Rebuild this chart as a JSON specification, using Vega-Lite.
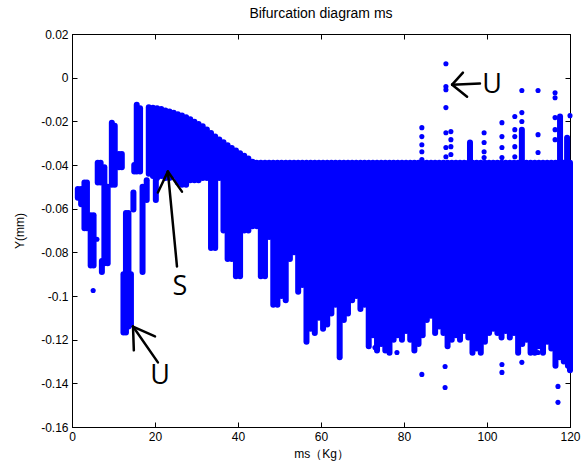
{
  "$schema": "https://vega.github.io/schema/vega-lite/v6.json",
  "width": 498,
  "height": 393,
  "autosize": "none",
  "padding": {"left": 72, "top": 34, "right": 14, "bottom": 43},
  "background": "white",
  "config": {
    "view": {"stroke": "black", "strokeWidth": 1},
    "font": "Liberation Sans",
    "axis": {"grid": false, "domainColor": "black", "tickColor": "black", "labelColor": "black", "titleColor": "black", "labelFontSize": 12, "titleFontSize": 12, "titleFontWeight": "normal", "labelFont": "Liberation Sans", "titleFont": "Liberation Sans"}
  },
  "title": {"text": "Bifurcation diagram ms", "fontSize": 14, "fontWeight": "normal", "font": "Liberation Sans", "offset": 7, "color": "black"},
  "datasets": {
    "segs": [
      {"x": 1.4, "y1": -0.051, "y2": -0.055},
      {"x": 2.2, "y1": -0.051, "y2": -0.058},
      {"x": 3.0, "y1": -0.048, "y2": -0.069},
      {"x": 3.6, "y1": -0.048, "y2": -0.069},
      {"x": 4.5, "y1": -0.063, "y2": -0.086},
      {"x": 5.2, "y1": -0.063, "y2": -0.086},
      {"x": 6.2, "y1": -0.039, "y2": -0.048},
      {"x": 6.9, "y1": -0.039, "y2": -0.048},
      {"x": 7.2, "y1": -0.084, "y2": -0.089},
      {"x": 7.8, "y1": -0.041, "y2": -0.085},
      {"x": 8.6, "y1": -0.050, "y2": -0.085},
      {"x": 9.6, "y1": -0.0206, "y2": -0.049},
      {"x": 10.3, "y1": -0.022, "y2": -0.049},
      {"x": 11.3, "y1": -0.035, "y2": -0.041},
      {"x": 12.0, "y1": -0.035, "y2": -0.041},
      {"x": 12.4, "y1": -0.090, "y2": -0.1167},
      {"x": 13.0, "y1": -0.062, "y2": -0.1167},
      {"x": 13.6, "y1": -0.062, "y2": -0.114},
      {"x": 14.2, "y1": -0.090, "y2": -0.113},
      {"x": 14.8, "y1": -0.0526, "y2": -0.0604},
      {"x": 15.0, "y1": -0.040, "y2": -0.043},
      {"x": 15.6, "y1": -0.0124, "y2": -0.043},
      {"x": 16.4, "y1": -0.014, "y2": -0.043},
      {"x": 17.0, "y1": -0.050, "y2": -0.089},
      {"x": 18.0, "y1": -0.047, "y2": -0.056},
      {"x": 18.5, "y1": -0.0135, "y2": -0.044},
      {"x": 19.5, "y1": -0.0138, "y2": -0.045},
      {"x": 20.2, "y1": -0.046, "y2": -0.056},
      {"x": 20.5, "y1": -0.0140, "y2": -0.046},
      {"x": 21.5, "y1": -0.0143, "y2": -0.045},
      {"x": 22.5, "y1": -0.0150, "y2": -0.046},
      {"x": 23.5, "y1": -0.0155, "y2": -0.046},
      {"x": 24.5, "y1": -0.0161, "y2": -0.045},
      {"x": 25.5, "y1": -0.0167, "y2": -0.048},
      {"x": 26.5, "y1": -0.0173, "y2": -0.049},
      {"x": 27.5, "y1": -0.0181, "y2": -0.049},
      {"x": 28.5, "y1": -0.0191, "y2": -0.047},
      {"x": 29.5, "y1": -0.0202, "y2": -0.047},
      {"x": 30.5, "y1": -0.0212, "y2": -0.047},
      {"x": 31.5, "y1": -0.0223, "y2": -0.046},
      {"x": 32.5, "y1": -0.0237, "y2": -0.046},
      {"x": 33.5, "y1": -0.0253, "y2": -0.078},
      {"x": 34.5, "y1": -0.0270, "y2": -0.078},
      {"x": 35.5, "y1": -0.0283, "y2": -0.046},
      {"x": 36.5, "y1": -0.0296, "y2": -0.070},
      {"x": 37.5, "y1": -0.0310, "y2": -0.083},
      {"x": 38.5, "y1": -0.0322, "y2": -0.083},
      {"x": 39.5, "y1": -0.0334, "y2": -0.091},
      {"x": 40.5, "y1": -0.0346, "y2": -0.091},
      {"x": 41.5, "y1": -0.0358, "y2": -0.070},
      {"x": 42.5, "y1": -0.0370, "y2": -0.070},
      {"x": 43.5, "y1": -0.0385, "y2": -0.068},
      {"x": 44.5, "y1": -0.039, "y2": -0.068},
      {"x": 45.5, "y1": -0.039, "y2": -0.091},
      {"x": 46.5, "y1": -0.039, "y2": -0.091},
      {"x": 47.5, "y1": -0.039, "y2": -0.073},
      {"x": 48.5, "y1": -0.039, "y2": -0.104},
      {"x": 49.5, "y1": -0.039, "y2": -0.104},
      {"x": 50.5, "y1": -0.039, "y2": -0.100},
      {"x": 51.5, "y1": -0.039, "y2": -0.102},
      {"x": 52.5, "y1": -0.039, "y2": -0.083},
      {"x": 53.5, "y1": -0.039, "y2": -0.080},
      {"x": 54.5, "y1": -0.039, "y2": -0.098},
      {"x": 55.5, "y1": -0.039, "y2": -0.095},
      {"x": 56.5, "y1": -0.039, "y2": -0.121},
      {"x": 57.5, "y1": -0.039, "y2": -0.115},
      {"x": 58.5, "y1": -0.039, "y2": -0.117},
      {"x": 59.5, "y1": -0.039, "y2": -0.110},
      {"x": 60.5, "y1": -0.039, "y2": -0.115},
      {"x": 61.5, "y1": -0.039, "y2": -0.113},
      {"x": 62.5, "y1": -0.039, "y2": -0.108},
      {"x": 63.5, "y1": -0.039, "y2": -0.104},
      {"x": 64.5, "y1": -0.039, "y2": -0.128},
      {"x": 65.5, "y1": -0.039, "y2": -0.111},
      {"x": 66.5, "y1": -0.039, "y2": -0.108},
      {"x": 67.5, "y1": -0.039, "y2": -0.102},
      {"x": 68.5, "y1": -0.039, "y2": -0.100},
      {"x": 69.5, "y1": -0.039, "y2": -0.106},
      {"x": 70.5, "y1": -0.039, "y2": -0.104},
      {"x": 71.5, "y1": -0.039, "y2": -0.123},
      {"x": 72.5, "y1": -0.039, "y2": -0.118},
      {"x": 73.5, "y1": -0.039, "y2": -0.125},
      {"x": 74.5, "y1": -0.039, "y2": -0.122},
      {"x": 75.5, "y1": -0.039, "y2": -0.125},
      {"x": 76.5, "y1": -0.039, "y2": -0.126},
      {"x": 77.5, "y1": -0.039, "y2": -0.120},
      {"x": 78.5, "y1": -0.039, "y2": -0.118},
      {"x": 79.5, "y1": -0.039, "y2": -0.120},
      {"x": 80.5, "y1": -0.039, "y2": -0.116},
      {"x": 81.5, "y1": -0.039, "y2": -0.120},
      {"x": 82.5, "y1": -0.039, "y2": -0.125},
      {"x": 83.5, "y1": -0.039, "y2": -0.122},
      {"x": 84.5, "y1": -0.039, "y2": -0.118},
      {"x": 85.5, "y1": -0.039, "y2": -0.111},
      {"x": 86.5, "y1": -0.039, "y2": -0.109},
      {"x": 87.5, "y1": -0.039, "y2": -0.117},
      {"x": 88.5, "y1": -0.039, "y2": -0.114},
      {"x": 89.5, "y1": -0.039, "y2": -0.117},
      {"x": 90.5, "y1": -0.039, "y2": -0.123},
      {"x": 91.5, "y1": -0.039, "y2": -0.120},
      {"x": 92.5, "y1": -0.039, "y2": -0.118},
      {"x": 93.5, "y1": -0.039, "y2": -0.120},
      {"x": 94.5, "y1": -0.039, "y2": -0.116},
      {"x": 95.5, "y1": -0.039, "y2": -0.119},
      {"x": 96.5, "y1": -0.039, "y2": -0.126},
      {"x": 97.5, "y1": -0.039, "y2": -0.124},
      {"x": 98.5, "y1": -0.039, "y2": -0.126},
      {"x": 99.5, "y1": -0.039, "y2": -0.121},
      {"x": 100.5, "y1": -0.039, "y2": -0.117},
      {"x": 101.5, "y1": -0.039, "y2": -0.115},
      {"x": 102.5, "y1": -0.039, "y2": -0.117},
      {"x": 103.5, "y1": -0.039, "y2": -0.119},
      {"x": 104.5, "y1": -0.039, "y2": -0.116},
      {"x": 105.5, "y1": -0.039, "y2": -0.119},
      {"x": 106.5, "y1": -0.039, "y2": -0.117},
      {"x": 107.5, "y1": -0.039, "y2": -0.126},
      {"x": 108.5, "y1": -0.039, "y2": -0.122},
      {"x": 109.5, "y1": -0.039, "y2": -0.120},
      {"x": 110.5, "y1": -0.039, "y2": -0.126},
      {"x": 111.5, "y1": -0.039, "y2": -0.126},
      {"x": 112.5, "y1": -0.039, "y2": -0.123},
      {"x": 113.5, "y1": -0.039, "y2": -0.126},
      {"x": 114.5, "y1": -0.039, "y2": -0.121},
      {"x": 115.5, "y1": -0.039, "y2": -0.124},
      {"x": 116.5, "y1": -0.039, "y2": -0.132},
      {"x": 117.5, "y1": -0.039, "y2": -0.128},
      {"x": 118.5, "y1": -0.039, "y2": -0.130},
      {"x": 119.5, "y1": -0.039, "y2": -0.132},
      {"x": 120.0, "y1": -0.039, "y2": -0.134},
      {"x": 95.9, "y1": -0.0297, "y2": -0.039},
      {"x": 119.3, "y1": -0.0275, "y2": -0.039},
      {"x": 117.6, "y1": -0.0178, "y2": -0.039},
      {"x": 108.4, "y1": -0.0238, "y2": -0.039}
    ],
    "pts": [
      {"x": 84.3, "y": -0.0229}, {"x": 84.3, "y": -0.027}, {"x": 84.3, "y": -0.0307}, {"x": 84.3, "y": -0.0339}, {"x": 84.3, "y": -0.0375},
      {"x": 90.1, "y": 0.0064}, {"x": 90.1, "y": -0.0041}, {"x": 90.1, "y": -0.0055}, {"x": 90.1, "y": -0.0137}, {"x": 90.1, "y": -0.0252}, {"x": 90.1, "y": -0.032}, {"x": 90.1, "y": -0.0362},
      {"x": 91.3, "y": -0.0247}, {"x": 91.3, "y": -0.0284}, {"x": 91.3, "y": -0.0316}, {"x": 91.3, "y": -0.0352},
      {"x": 99.3, "y": -0.0252}, {"x": 99.3, "y": -0.0297}, {"x": 99.3, "y": -0.0339}, {"x": 99.3, "y": -0.0366},
      {"x": 103.6, "y": -0.0206}, {"x": 103.6, "y": -0.027}, {"x": 103.6, "y": -0.032}, {"x": 103.6, "y": -0.0366},
      {"x": 106.7, "y": -0.0178}, {"x": 106.7, "y": -0.0238}, {"x": 106.7, "y": -0.027}, {"x": 106.7, "y": -0.0316}, {"x": 106.7, "y": -0.0362},
      {"x": 108.4, "y": -0.0059}, {"x": 108.4, "y": -0.016}, {"x": 108.4, "y": -0.0201},
      {"x": 112.3, "y": -0.0059}, {"x": 112.3, "y": -0.0261}, {"x": 112.3, "y": -0.0343},
      {"x": 116.4, "y": -0.0069}, {"x": 116.4, "y": -0.0092}, {"x": 116.4, "y": -0.0183}, {"x": 116.4, "y": -0.0238}, {"x": 116.4, "y": -0.0284},
      {"x": 120.0, "y": -0.0174},
      {"x": 89.9, "y": -0.1419}, {"x": 84.3, "y": -0.1359}, {"x": 89.9, "y": -0.1323}, {"x": 103.6, "y": -0.1314}, {"x": 103.6, "y": -0.135},
      {"x": 108.4, "y": -0.1304}, {"x": 112.3, "y": -0.1259}, {"x": 117.1, "y": -0.1414}, {"x": 117.1, "y": -0.1487}, {"x": 78.3, "y": -0.1259}, {"x": 73.0, "y": -0.1236},
      {"x": 5.1, "y": -0.0975}, {"x": 6.0, "y": -0.074}
    ],
    "arrows": [
      {"x": 25.3, "y": -0.0865, "x2": 23.1, "y2": -0.043},
      {"x": 20.7, "y": -0.0526, "x2": 23.1, "y2": -0.043},
      {"x": 26.5, "y": -0.0522, "x2": 23.1, "y2": -0.043},
      {"x": 20.7, "y": -0.1304, "x2": 14.7, "y2": -0.114},
      {"x": 14.9, "y": -0.1249, "x2": 14.7, "y2": -0.114},
      {"x": 20.0, "y": -0.1185, "x2": 14.7, "y2": -0.114},
      {"x": 98.3, "y": -0.0027, "x2": 91.6, "y2": -0.0032},
      {"x": 94.2, "y": 0.0023, "x2": 91.6, "y2": -0.0032},
      {"x": 95.2, "y": -0.0087, "x2": 91.6, "y2": -0.0032}
    ],
    "labels": [
      {"x": 26.0, "y": -0.0961, "t": "S"},
      {"x": 21.2, "y": -0.1368, "t": "U"},
      {"x": 101.2, "y": -0.0032, "t": "U"}
    ]
  },
  "layer": [
    {
      "data": {"name": "segs"},
      "mark": {"type": "rule", "color": "#0000ff", "strokeWidth": 6, "strokeCap": "round"},
      "encoding": {
        "x": {"field": "x", "type": "quantitative", "scale": {"domain": [0, 120], "nice": false, "zero": false},
              "axis": {"orient": "bottom", "values": [0, 20, 40, 60, 80, 100, 120], "tickSize": -5, "labelPadding": 9, "title": "ms（Kg）", "titlePadding": 6, "labelFlush": false}},
        "y": {"field": "y1", "type": "quantitative", "scale": {"domain": [-0.16, 0.02], "nice": false, "zero": false},
              "axis": {"orient": "left", "values": [0.02, 0, -0.02, -0.04, -0.06, -0.08, -0.1, -0.12, -0.14, -0.16], "tickSize": -5, "labelPadding": 9, "title": "Y(mm)", "titlePadding": 14, "labelFlush": false,
                       "labelExpr": "datum.value == 0 ? '0' : replace(format(datum.value, '.2~f'), '\u2212', '-')"}},
        "y2": {"field": "y2"}
      }
    },
    {
      "data": {"name": "pts"},
      "mark": {"type": "circle", "color": "#0000ff", "size": 26, "opacity": 1},
      "encoding": {
        "x": {"field": "x", "type": "quantitative", "axis": {"orient": "top", "values": [0, 20, 40, 60, 80, 100, 120], "tickSize": -5, "labels": false, "title": null}},
        "y": {"field": "y", "type": "quantitative", "axis": {"orient": "right", "values": [0.02, 0, -0.02, -0.04, -0.06, -0.08, -0.1, -0.12, -0.14, -0.16], "tickSize": -5, "labels": false, "title": null}}
      }
    },
    {
      "data": {"name": "arrows"},
      "mark": {"type": "rule", "color": "black", "strokeWidth": 2.5, "strokeCap": "round"},
      "encoding": {
        "x": {"field": "x", "type": "quantitative", "axis": null},
        "y": {"field": "y", "type": "quantitative", "axis": null},
        "x2": {"field": "x2"},
        "y2": {"field": "y2"}
      }
    },
    {
      "data": {"name": "labels"},
      "mark": {"type": "text", "color": "black", "font": "Open Sans", "fontSize": 27, "align": "center", "baseline": "middle"},
      "encoding": {
        "x": {"field": "x", "type": "quantitative", "axis": null},
        "y": {"field": "y", "type": "quantitative", "axis": null},
        "text": {"field": "t"}
      }
    }
  ],
  "resolve": {"axis": {"x": "independent", "y": "independent"}}
}
